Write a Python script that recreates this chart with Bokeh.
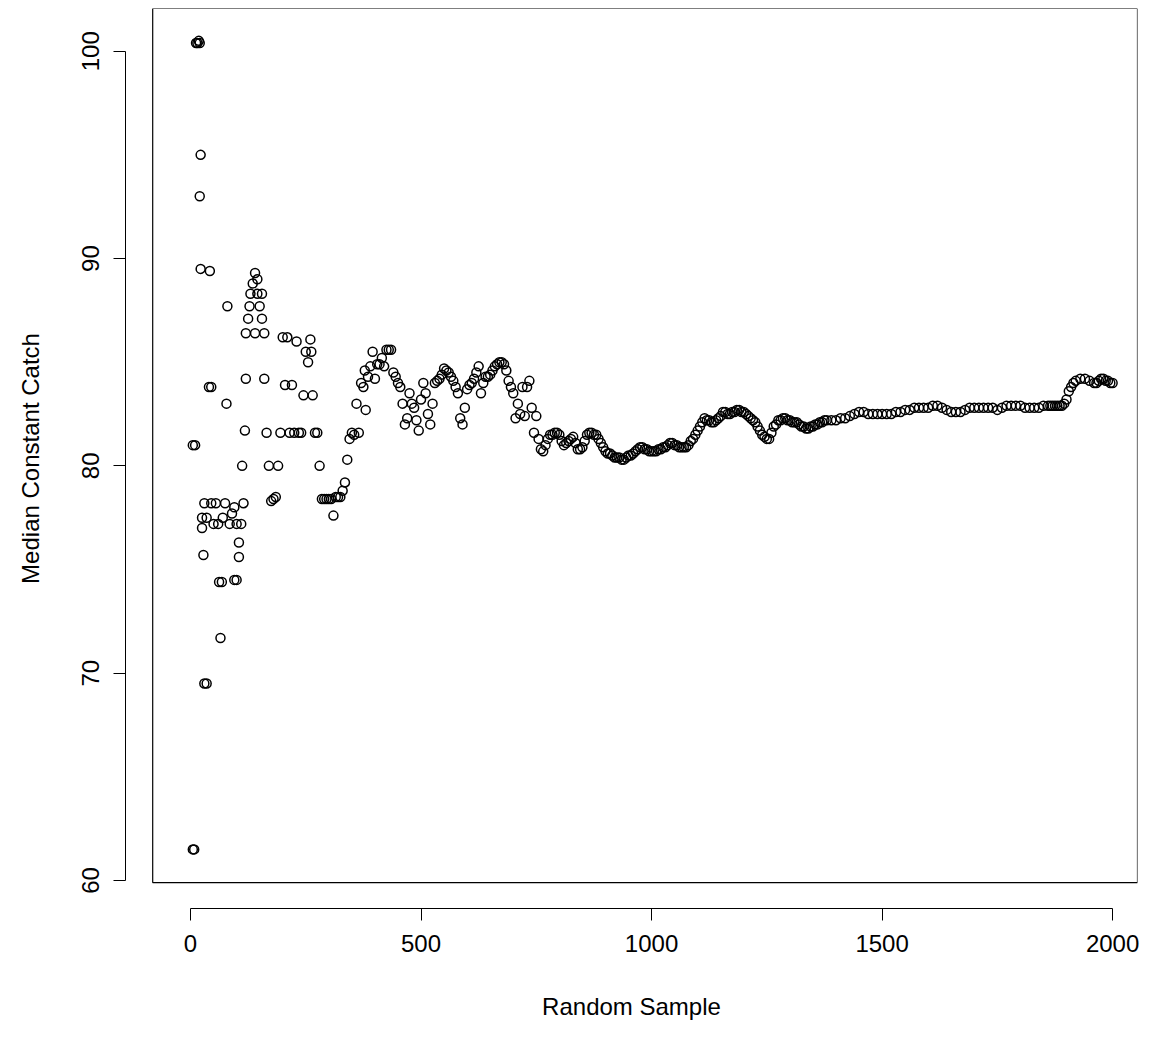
from bokeh.plotting import figure
from bokeh.models import BoxAnnotation, Range1d, FixedTicker
from bokeh.embed import file_html
from bokeh.resources import INLINE

sample = [5, 8, 5, 10, 12, 15, 18, 20, 22, 20, 22, 25, 25, 28, 30, 35, 30, 35, 40, 45, 42, 45, 50, 55, 60, 62, 68, 65, 70, 75, 78, 80, 85, 90, 95, 100, 95, 100, 105, 105, 110, 112, 115, 118, 120, 120, 125, 128, 130, 135, 140, 145, 140, 145, 150, 155, 155, 160, 160, 165, 170, 175, 180, 185, 190, 195, 200, 205, 210, 215, 220, 225, 230, 235, 240, 245, 250, 255, 260, 262, 265, 270, 275, 280, 285, 290, 295, 300, 305, 310, 315, 320, 325, 330, 335, 340, 345, 350, 355, 360, 365, 370, 375, 378, 380, 385, 390, 395, 400, 405, 410, 415, 420, 425, 430, 435, 440, 445, 450, 455, 460, 465, 470, 475, 480, 485, 490, 495, 500, 505, 510, 515, 520, 525, 530, 535, 540, 545, 550, 555, 560, 565, 570, 575, 580, 585, 590, 595, 600, 605, 610, 615, 620, 625, 630, 635, 640, 645, 650, 655, 660, 665, 670, 675, 680, 685, 690, 695, 700, 705, 710, 715, 720, 725, 730, 735, 740, 745, 750, 755, 760, 765, 770, 775, 780, 785, 790, 795, 800, 805, 810, 815, 820, 825, 830, 835, 840, 845, 850, 855, 860, 865, 870, 875, 880, 885, 890, 895, 900, 905, 910, 915, 920, 925, 930, 935, 940, 945, 950, 955, 960, 965, 970, 975, 980, 985, 990, 995, 1000, 1005, 1010, 1015, 1020, 1025, 1030, 1035, 1040, 1045, 1050, 1055, 1060, 1065, 1070, 1075, 1080, 1085, 1090, 1095, 1100, 1105, 1110, 1115, 1120, 1125, 1130, 1135, 1140, 1145, 1150, 1155, 1160, 1165, 1170, 1175, 1180, 1185, 1190, 1195, 1200, 1205, 1210, 1215, 1220, 1225, 1230, 1235, 1240, 1245, 1250, 1255, 1260, 1265, 1270, 1275, 1280, 1285, 1290, 1295, 1300, 1305, 1310, 1315, 1320, 1325, 1330, 1335, 1340, 1345, 1350, 1355, 1360, 1365, 1370, 1375, 1380, 1390, 1400, 1410, 1420, 1430, 1440, 1450, 1460, 1470, 1480, 1490, 1500, 1510, 1520, 1530, 1540, 1550, 1560, 1570, 1580, 1590, 1600, 1610, 1620, 1630, 1640, 1650, 1660, 1670, 1680, 1690, 1700, 1710, 1720, 1730, 1740, 1750, 1760, 1770, 1780, 1790, 1800, 1810, 1820, 1830, 1840, 1850, 1860, 1865, 1870, 1875, 1880, 1885, 1890, 1895, 1900, 1905, 1910, 1915, 1920, 1930, 1940, 1950, 1960, 1965, 1970, 1975, 1980, 1985, 1990, 1995, 2000]
catch = [61.5, 61.5, 81, 81, 100.4, 100.4, 100.5, 100.4, 95, 93, 89.5, 77.5, 77, 75.7, 69.5, 69.5, 78.2, 77.5, 83.8, 83.8, 89.4, 78.2, 77.2, 78.2, 77.2, 74.4, 74.4, 71.7, 77.5, 78.2, 83, 87.7, 77.2, 77.7, 74.5, 74.5, 78, 77.2, 76.3, 75.6, 77.2, 80, 78.2, 81.7, 84.2, 86.4, 87.1, 87.7, 88.3, 88.8, 89.3, 89, 86.4, 88.3, 87.7, 88.3, 87.1, 86.4, 84.2, 81.6, 80, 78.3, 78.4, 78.5, 80, 81.6, 86.2, 83.9, 86.2, 81.6, 83.9, 81.6, 86, 81.6, 81.6, 83.4, 85.5, 85, 86.1, 85.5, 83.4, 81.6, 81.6, 80, 78.4, 78.4, 78.4, 78.4, 78.4, 77.6, 78.5, 78.5, 78.5, 78.8, 79.2, 80.3, 81.3, 81.6, 81.5, 83, 81.6, 84, 83.8, 84.6, 82.7, 84.3, 84.8, 85.5, 84.2, 84.9, 84.9, 85.2, 84.8, 85.6, 85.6, 85.6, 84.5, 84.3, 84, 83.8, 83, 82, 82.3, 83.5, 83, 82.8, 82.2, 81.7, 83.2, 84, 83.5, 82.5, 82, 83, 84, 84.1, 84.2, 84.4, 84.7, 84.6, 84.5, 84.3, 84.1, 83.8, 83.5, 82.3, 82, 82.8, 83.7, 83.9, 84, 84.2, 84.5, 84.8, 83.5, 84.0, 84.3, 84.3, 84.4, 84.6, 84.8, 84.9, 85, 85, 84.9, 84.6, 84.1, 83.8, 83.5, 82.3, 83, 82.5, 83.8, 82.4, 83.8, 84.1, 82.8, 81.6, 82.4, 81.3, 80.8, 80.7, 81, 81.3, 81.5, 81.5, 81.6, 81.6, 81.5, 81.2, 81, 81.1, 81.2, 81.3, 81.4, 81.1, 80.8, 80.8, 80.9, 81.2, 81.5, 81.6, 81.6, 81.5, 81.5, 81.3, 81.1, 80.9, 80.7, 80.6, 80.6, 80.5, 80.4, 80.4, 80.4, 80.3, 80.3, 80.4, 80.5, 80.5, 80.6, 80.7, 80.8, 80.9, 80.9, 80.8, 80.8, 80.7, 80.7, 80.7, 80.7, 80.8, 80.8, 80.9, 80.9, 81.0, 81.1, 81.1, 81.0, 81.0, 80.9, 80.9, 80.9, 80.9, 81.0, 81.2, 81.3, 81.5, 81.7, 81.9, 82.1, 82.3, 82.2, 82.2, 82.1, 82.1, 82.2, 82.3, 82.4, 82.6, 82.6, 82.5, 82.5, 82.6, 82.6, 82.7, 82.7, 82.6, 82.6, 82.5, 82.4, 82.3, 82.2, 82.1, 81.9, 81.7, 81.5, 81.4, 81.3, 81.3, 81.6, 81.9, 82.0, 82.2, 82.2, 82.3, 82.3, 82.2, 82.2, 82.1, 82.1, 82.1, 82.0, 81.9, 81.9, 81.8, 81.8, 81.9, 81.9, 82, 82.0, 82.1, 82.1, 82.2, 82.2, 82.2, 82.2, 82.3, 82.3, 82.4, 82.5, 82.6, 82.6, 82.5, 82.5, 82.5, 82.5, 82.5, 82.5, 82.6, 82.6, 82.7, 82.7, 82.8, 82.8, 82.8, 82.8, 82.9, 82.9, 82.8, 82.7, 82.6, 82.6, 82.6, 82.7, 82.8, 82.8, 82.8, 82.8, 82.8, 82.8, 82.7, 82.8, 82.9, 82.9, 82.9, 82.9, 82.8, 82.8, 82.8, 82.8, 82.9, 82.9, 82.9, 82.9, 82.9, 82.9, 82.9, 82.9, 83, 83.2, 83.6, 83.8, 84, 84.1, 84.2, 84.2, 84.1, 84.0, 84, 84.1, 84.2, 84.2, 84.1, 84.1, 84, 84.0, 83.9, 83.9, 83.8]

x_ticks = [0, 500, 1000, 1500, 2000]
y_ticks = [60, 70, 80, 90, 100]

FONT = "Liberation Sans"

p = figure(width=1150, height=1030, output_backend="svg", toolbar_location=None,
           x_range=Range1d(-141, 2054), y_range=Range1d(58.65, 102.06),
           min_border_left=125, min_border_right=13, min_border_top=8, min_border_bottom=122)
p.outline_line_color = None
p.grid.visible = False
p.background_fill_color = "white"

p.add_layout(BoxAnnotation(left=-82, right=2054, bottom=59.9, top=102.06,
                           fill_color=None, line_color="black", line_alpha=1.0, line_width=1.2))

p.scatter(sample, catch, marker="circle", size=9, fill_color=None,
          line_color="black", line_width=1.5)

for ax, ticks in ((p.xaxis, x_ticks), (p.yaxis, y_ticks)):
    ax.ticker = FixedTicker(ticks=ticks)
    ax.bounds = (ticks[0], ticks[-1])
    ax.minor_tick_line_color = None
    ax.major_tick_out = 12
    ax.major_tick_in = 0
    ax.axis_line_color = "black"
    ax.major_label_text_font = FONT
    ax.major_label_text_font_size = "24px"
    ax.major_label_text_color = "black"
    ax.axis_label_text_font = FONT
    ax.axis_label_text_font_size = "24px"
    ax.axis_label_text_font_style = "normal"
    ax.axis_label_text_color = "black"

p.xaxis.axis_label = "Random Sample"
p.xaxis.major_label_standoff = 14
p.xaxis.axis_label_standoff = 38
p.yaxis.axis_label = "Median Constant Catch"
p.yaxis.major_label_orientation = "vertical"
p.yaxis.major_label_standoff = 14
p.yaxis.axis_label_standoff = 36

open("out.html", "w").write(file_html(p, INLINE))
